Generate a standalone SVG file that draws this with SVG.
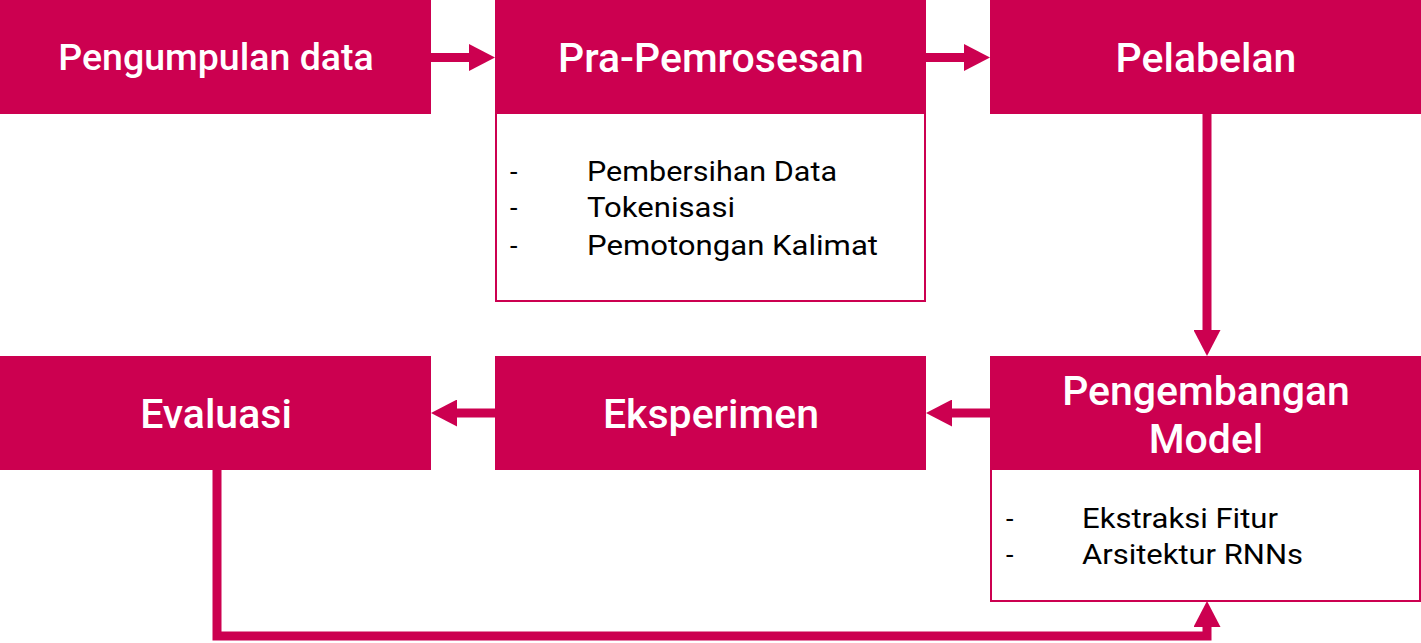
<svg xmlns="http://www.w3.org/2000/svg" width="1421" height="643" viewBox="0 0 1421 643">
<style>
.hd{fill:#CC0050}
.bd{fill:#fff;stroke:#CC0050;stroke-width:2}
.ht{font-family:Roboto,"Liberation Sans",sans-serif;font-weight:500;font-size:41px;fill:#fff;text-anchor:middle}
.lt{font-family:Roboto,"Liberation Sans",sans-serif;font-size:27px;fill:#000}
.cn{fill:none;stroke:#CC0050;stroke-width:9}
</style>
<defs>
<marker id="ah" markerUnits="userSpaceOnUse" markerWidth="27" markerHeight="27" refX="0" refY="13.5" orient="auto" viewBox="0 0 27 27">
<path d="M0,0 L26,13.5 L0,27 Z" fill="#CC0050"/>
</marker>
</defs>
<rect width="1421" height="643" fill="#fff"/>
<g id="connectors">
<path class="cn" d="M431,57.5 H469" marker-end="url(#ah)"/>
<path class="cn" d="M926,57.5 H964" marker-end="url(#ah)"/>
<path class="cn" d="M1207,114 V330" marker-end="url(#ah)"/>
<path class="cn" d="M990,413 H952" marker-end="url(#ah)"/>
<path class="cn" d="M495,413 H457" marker-end="url(#ah)"/>
<path class="cn" d="M217,470 V636 H1207 V627" marker-end="url(#ah)"/>
</g>
<g id="n1">
<rect class="hd" x="0" y="0" width="431" height="114"/>
<text class="ht" x="216" y="70" style="font-size:37.5px">Pengumpulan data</text>
</g>
<g id="n2">
<rect class="bd" x="496" y="113" width="429" height="188"/>
<rect class="hd" x="495" y="0" width="431" height="114"/>
<text class="ht" x="711" y="72">Pra-Pemrosesan</text>
<text class="lt" x="510" y="181">-</text>
<text class="lt" x="587" y="181" textLength="250" lengthAdjust="spacingAndGlyphs">Pembersihan Data</text>
<text class="lt" x="510" y="217">-</text>
<text class="lt" x="587" y="217" textLength="148" lengthAdjust="spacingAndGlyphs">Tokenisasi</text>
<text class="lt" x="510" y="255">-</text>
<text class="lt" x="587" y="255" textLength="291" lengthAdjust="spacingAndGlyphs">Pemotongan Kalimat</text>
</g>
<g id="n3">
<rect class="hd" x="990" y="0" width="431" height="114"/>
<text class="ht" x="1206" y="72">Pelabelan</text>
</g>
<g id="n4">
<rect class="bd" x="991" y="469" width="429" height="132"/>
<rect class="hd" x="990" y="356" width="431" height="114"/>
<text class="ht" x="1206" y="405">Pengembangan</text>
<text class="ht" x="1206" y="453">Model</text>
<text class="lt" x="1006" y="528">-</text>
<text class="lt" x="1082" y="528" textLength="196" lengthAdjust="spacingAndGlyphs">Ekstraksi Fitur</text>
<text class="lt" x="1006" y="564">-</text>
<text class="lt" x="1082" y="564" textLength="221" lengthAdjust="spacingAndGlyphs">Arsitektur RNNs</text>
</g>
<g id="n5">
<rect class="hd" x="495" y="356" width="431" height="114"/>
<text class="ht" x="711" y="428">Eksperimen</text>
</g>
<g id="n6">
<rect class="hd" x="0" y="356" width="431" height="114"/>
<text class="ht" x="216" y="428">Evaluasi</text>
</g>
</svg>
